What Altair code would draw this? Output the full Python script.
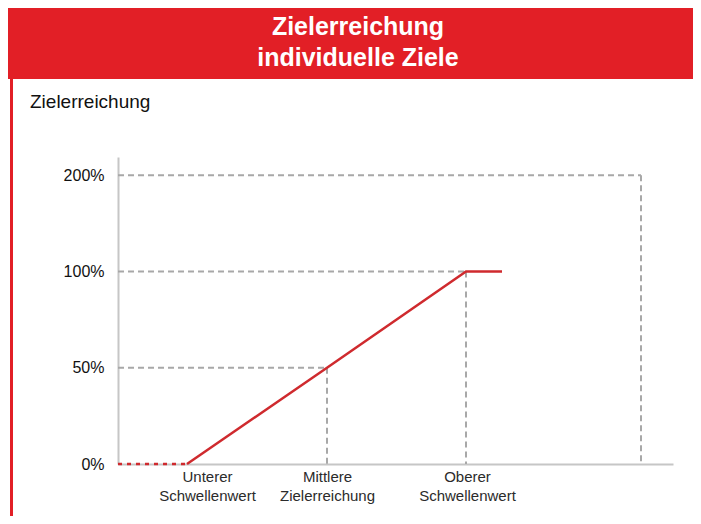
import altair as alt
import pandas as pd
import json

# ---- data ----
# x positions (in px-like units from the y axis) of the key thresholds
x_lower = 69      # Unterer Schwellenwert
x_mid = 209       # Mittlere Zielerreichung
x_upper = 348     # Oberer Schwellenwert
x_cap_end = 384   # end of the 100 % cap line
x_max = 523       # right dashed boundary
x_axis_end = 555

# y levels as evenly spaced categories
y_levels = [0, 1, 2, 3]
y_labels = ["0%", "50%", "100%", "200%"]

# x-axis label positions and texts
x_label_pos = [89, 209, 349]
x_labels = [["Unterer", "Schwellenwert"], ["Mittlere", "Zielerreichung"], ["Oberer", "Schwellenwert"]]

header_lines = ["Zielerreichung", "individuelle Ziele"]
y_title = "Zielerreichung"

# red payout curve
curve_x = [x_lower, x_mid, x_upper, x_cap_end]
curve_y = [0, 1, 2, 2]
# dotted part before lower threshold
dot_x = [0, x_lower]
dot_y = [0, 0]

# grey dashed reference segments (x, x2, y, y2)
ref_x = [0, x_max, 0, x_upper, 0, x_mid]
ref_x2 = [x_max, x_max, x_upper, x_upper, x_mid, x_mid]
ref_y = [3, 3, 2, 2, 1, 1]
ref_y2 = [3, 0, 2, 0, 1, 0]

RED = "#e21f26"
LINE_RED = "#cf2a2e"
GREY = "#a8a8a8"
AXIS = "#c6c6c6"
FONT = "Liberation Sans"

xs = alt.Scale(domain=[0, x_axis_end], nice=False, zero=False)
ys = alt.Scale(domain=[0, 3.19], nice=False, zero=False)

y_expr = " : ".join(f"datum.value == {v} ? '{l}'" for v, l in zip(y_levels, y_labels)) + " : ''"
x_expr = " : ".join(f"datum.value == {v} ? {json.dumps(l)}" for v, l in zip(x_label_pos, x_labels)) + " : ''"
x_expr = x_expr.replace('"', "'")

ref_df = pd.DataFrame({"x": ref_x, "x2": ref_x2, "y": ref_y, "y2": ref_y2})
curve_df = pd.DataFrame({"x": curve_x, "y": curve_y, "o": range(len(curve_x))})
dot_df = pd.DataFrame({"x": dot_x, "y": dot_y})
axis_df = pd.DataFrame({"x": [0], "y": [0]})

x_axis = alt.Axis(values=x_label_pos, labelExpr=x_expr, ticks=False, grid=False, title=None,
                  domainColor=AXIS, domainWidth=2, labelFont=FONT, labelFontSize=15,
                  labelColor="#2b2b2b", labelPadding=5, labelLineHeight=19,
                  labelBaseline="top", labelAngle=0)
y_axis = alt.Axis(values=y_levels, labelExpr=y_expr, ticks=False, grid=False, title=None,
                  domainColor=AXIS, domainWidth=2, labelFont=FONT, labelFontSize=16,
                  labelColor="#111111", labelPadding=14)

base_axes = alt.Chart(axis_df).mark_point(opacity=0).encode(
    x=alt.X("x:Q", scale=xs, axis=x_axis),
    y=alt.Y("y:Q", scale=ys, axis=y_axis),
)

refs = alt.Chart(ref_df).mark_rule(color=GREY, strokeWidth=2, strokeDash=[6, 4]).encode(
    x=alt.X("x:Q", scale=xs), x2="x2:Q",
    y=alt.Y("y:Q", scale=ys), y2="y2:Q",
)

dots = alt.Chart(dot_df).mark_line(color=LINE_RED, strokeWidth=2.5, strokeDash=[4, 5]).encode(
    x=alt.X("x:Q", scale=xs), y=alt.Y("y:Q", scale=ys),
)

curve = alt.Chart(curve_df).mark_line(color=LINE_RED, strokeWidth=2.5).encode(
    x=alt.X("x:Q", scale=xs), y=alt.Y("y:Q", scale=ys), order="o:Q",
)

header_rect = alt.Chart(axis_df).mark_rect(color=RED).encode(
    x=alt.value(-110), x2=alt.value(580), y=alt.value(-149), y2=alt.value(-78),
)
header_text = alt.Chart(axis_df).mark_text(
    text=header_lines, color="white", font=FONT, fontSize=25, fontWeight="bold",
    align="center", baseline="alphabetic", lineHeight=31,
).encode(x=alt.value(240), y=alt.value(-122))

left_bar = alt.Chart(axis_df).mark_rule(color=RED, strokeWidth=3).encode(
    x=alt.value(-106.5), y=alt.value(-79), y2=alt.value(360),
)

ytitle = alt.Chart(axis_df).mark_text(
    text=y_title, color="#111111", font=FONT, fontSize=19, align="left", baseline="alphabetic",
).encode(x=alt.value(-88), y=alt.value(-49))

chart = alt.layer(base_axes, refs, dots, curve, header_rect, header_text, left_bar, ytitle).properties(
    width=x_axis_end, height=307,
    autosize=alt.AutoSizeParams(type="none"),
    padding={"left": 110, "top": 149, "right": 20, "bottom": 52},
    background="white",
).configure_view(stroke=None)

chart.save("out.html", embed_options={"renderer": "svg", "actions": False})
